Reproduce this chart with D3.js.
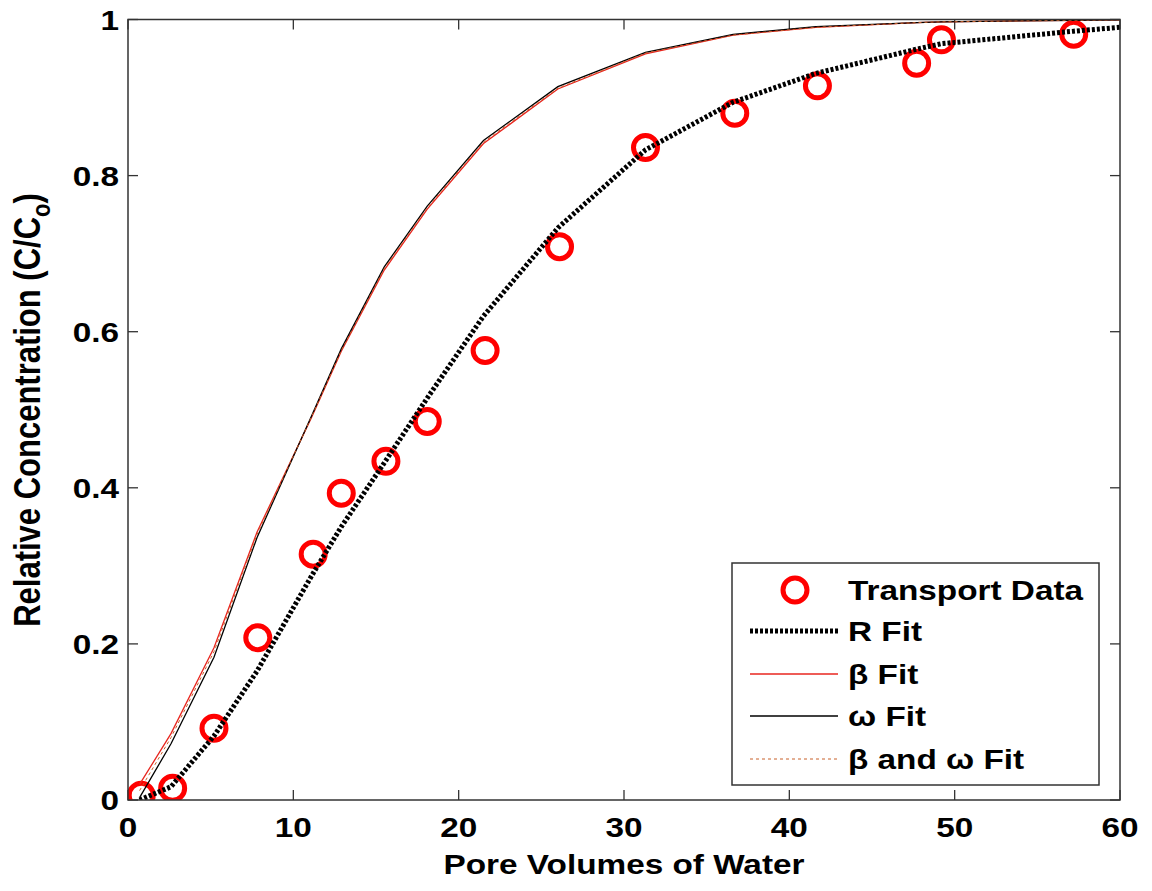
<!DOCTYPE html>
<html><head><meta charset="utf-8">
<script src="https://cdn.jsdelivr.net/npm/d3@7"></script>
<style>body{margin:0;background:#fff}svg{display:block}text{font-family:"Liberation Sans",Arial,sans-serif;font-weight:bold;fill:#000}</style>
</head><body>
<script>
// Transport data
const dataX = [0.8, 2.7, 5.2, 7.85, 11.2, 12.9, 15.6, 18.1, 21.6, 26.1, 31.3, 36.7, 41.7, 47.7, 49.2, 57.2];
const dataY = [0.006, 0.015, 0.092, 0.208, 0.315, 0.393, 0.434, 0.485, 0.576, 0.709, 0.836, 0.880, 0.915, 0.944, 0.974, 0.981];
// fit curves evaluated at
const fitX = [0.7, 2.6, 5.2, 7.8, 11.1, 12.9, 15.5, 18.1, 21.5, 26.0, 31.3, 36.6, 41.6, 47.7, 49.2, 57.2, 60];
const rFit = [0.0, 0.017, 0.082, 0.165, 0.287, 0.350, 0.432, 0.515, 0.620, 0.733, 0.833, 0.894, 0.931, 0.962, 0.969, 0.985, 0.990];
const betaFit = [0.020, 0.085, 0.195, 0.343, 0.490, 0.575, 0.679, 0.757, 0.841, 0.911, 0.956, 0.980, 0.990, 0.996, 0.997, 0.999, 0.9995];
const omegaFit = [0.003, 0.072, 0.183, 0.336, 0.492, 0.578, 0.683, 0.761, 0.845, 0.914, 0.958, 0.981, 0.991, 0.996, 0.997, 0.999, 0.9995];
const betaOmegaFit = [0.012, 0.080, 0.190, 0.340, 0.491, 0.576, 0.681, 0.759, 0.843, 0.912, 0.957, 0.980, 0.990, 0.996, 0.997, 0.999, 0.9995];
const xTicks = [0, 10, 20, 30, 40, 50, 60];
const yTicks = [0, 0.2, 0.4, 0.6, 0.8, 1];
const legendLabels = ["Transport Data", "R Fit", "\u03b2 Fit", "\u03c9 Fit", "\u03b2 and \u03c9 Fit"];
const xLabel = "Pore Volumes of Water";

const W = 1152, H = 891;
const SX = 1.19; // horizontal text stretch of reference
const svg = d3.select("body").append("svg").attr("width", W).attr("height", H);
const x = d3.scaleLinear().domain([0, 60]).range([128, 1120]);
const y = d3.scaleLinear().domain([0, 1]).range([800, 19.5]);
const axisCol = "#333";

// clip
svg.append("clipPath").attr("id", "clip").append("rect")
  .attr("x", x(0)).attr("y", y(1) - 3).attr("width", x(60) - x(0)).attr("height", y(0) - y(1) + 3);

// ticks (inward, all four sides)
const gT = svg.append("g").attr("stroke", axisCol).attr("stroke-width", 1.3);
xTicks.forEach(t => {
  gT.append("line").attr("x1", x(t)).attr("x2", x(t)).attr("y1", y(0)).attr("y2", y(0) - 10);
  gT.append("line").attr("x1", x(t)).attr("x2", x(t)).attr("y1", y(1)).attr("y2", y(1) + 10);
});
yTicks.forEach(t => {
  gT.append("line").attr("x1", x(0)).attr("x2", x(0) + 10).attr("y1", y(t)).attr("y2", y(t));
  gT.append("line").attr("x1", x(60)).attr("x2", x(60) - 10).attr("y1", y(t)).attr("y2", y(t));
});

// data + fits
const plot = svg.append("g").attr("clip-path", "url(#clip)");
const line = d3.line().x(d => x(d[0])).y(d => y(d[1]));
const pts = dataX.map((v, i) => [v, dataY[i]]);
plot.selectAll("circle.d").data(pts).join("circle").attr("class", "d")
  .attr("cx", d => x(d[0])).attr("cy", d => y(d[1])).attr("r", 12)
  .attr("fill", "none").attr("stroke", "#ff0000").attr("stroke-width", 5);

const series = [
  {v: rFit, col: "#000", w: 5, dash: "3,2"},
  {v: betaFit, col: "#e8261f", w: 1.3, dash: null},
  {v: omegaFit, col: "#000", w: 1.3, dash: null},
  {v: betaOmegaFit, col: "#c8602a", w: 1, dash: "3,3"}
];
series.forEach(s => {
  plot.append("path").datum(fitX.map((v, i) => [v, s.v[i]]))
    .attr("d", line).attr("fill", "none").attr("stroke", s.col)
    .attr("stroke-width", s.w).attr("stroke-dasharray", s.dash);
});

// box
svg.append("rect").attr("x", x(0)).attr("y", y(1)).attr("width", x(60) - x(0)).attr("height", y(0) - y(1))
  .attr("fill", "none").attr("stroke", axisCol).attr("stroke-width", 1.5);

// tick labels
xTicks.forEach(t => {
  svg.append("text").attr("transform", `translate(${x(t)},837) scale(${SX},1)`)
    .attr("text-anchor", "middle").attr("font-size", 28).text(d3.format("d")(t));
});
yTicks.forEach(t => {
  svg.append("text").attr("transform", `translate(119,${y(t) + 10}) scale(${SX},1)`)
    .attr("text-anchor", "end").attr("font-size", 28).text(t === 0 ? "0" : t === 1 ? "1" : d3.format(".1f")(t));
});

// axis labels
svg.append("text").attr("transform", `translate(${(x(0) + x(60)) / 2},874) scale(${SX},1)`)
  .attr("text-anchor", "middle").attr("font-size", 28).text(xLabel);
const yl = svg.append("text").attr("transform", `translate(40,410) scale(${SX},1) rotate(-90)`)
  .attr("text-anchor", "middle").attr("font-size", 31);
yl.append("tspan").text("Relative Concentration (C/C");
yl.append("tspan").attr("font-size", 22).attr("dy", 8).text("o");
yl.append("tspan").attr("dy", -8).text(")");

// legend
const lg = svg.append("g");
lg.append("rect").attr("x", 732).attr("y", 563).attr("width", 367).attr("height", 222)
  .attr("fill", "#fff").attr("stroke", axisCol).attr("stroke-width", 1.5);
const ly = [590, 631, 674, 716, 759];
lg.append("circle").attr("cx", 795).attr("cy", ly[0]).attr("r", 12)
  .attr("fill", "none").attr("stroke", "#ff0000").attr("stroke-width", 5);
series.forEach((s, i) => {
  lg.append("line").attr("x1", 750).attr("x2", 838).attr("y1", ly[i + 1]).attr("y2", ly[i + 1])
    .attr("stroke", s.col).attr("stroke-width", s.w).attr("stroke-dasharray", s.dash);
});
legendLabels.forEach((l, i) => {
  lg.append("text").attr("transform", `translate(848,${ly[i] + 10}) scale(${SX},1)`)
    .attr("font-size", 28).text(l);
});
</script>
</body></html>
